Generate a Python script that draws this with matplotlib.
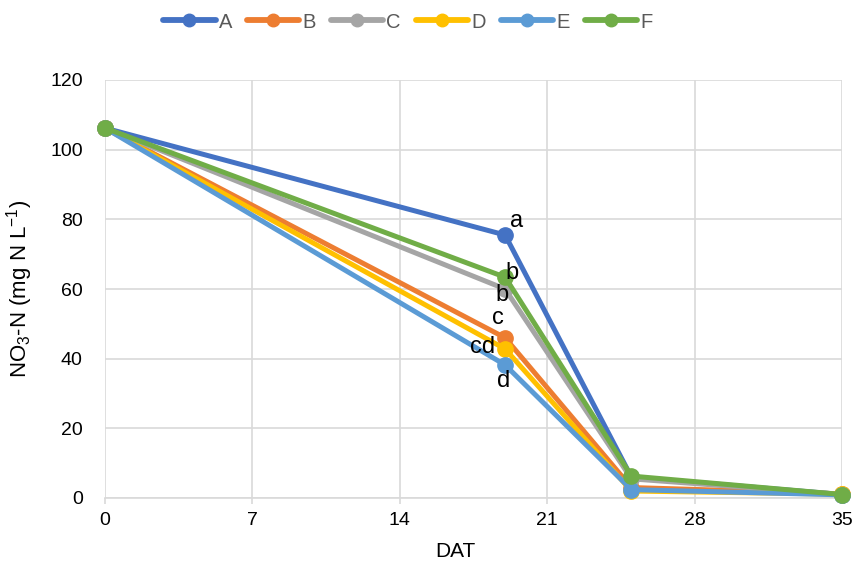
import matplotlib
matplotlib.use("Agg")
import matplotlib.pyplot as plt

plt.rcParams['font.family'] = ['Liberation Sans', 'DejaVu Sans']
plt.rcParams['mathtext.default'] = 'regular'

days = [0, 19, 25, 35]
series_names = ["A", "B", "C", "D", "E", "F"]
A = [106.2, 75.5, 6.0, 1.0]
B = [106.2, 46.0, 3.0, 1.2]
C = [106.2, 60.0, 5.5, 1.0]
D = [106.2, 42.8, 2.0, 1.1]
E = [106.2, 38.2, 2.4, 0.9]
F = [106.2, 63.4, 6.3, 1.0]
values = [A, B, C, D, E, F]
colors = ["#4472C4", "#ED7D31", "#A5A5A5", "#FFC000", "#5B9BD5", "#70AD47"]
letters = [("a", 19, 75.5), ("b", 19, 63.4), ("b", 19, 60.0), ("c", 19, 46.0), ("cd", 19, 42.8), ("d", 19, 38.2)]
letter_offsets = [(8.6, 10), (5, 2.9), (-2, -4.3), (-5, 14.4), (-16, 1.4), (-1.4, -11.5)]
xticks = [0, 7, 14, 21, 28, 35]
yticks = [0, 20, 40, 60, 80, 100, 120]

fig = plt.figure(figsize=(8.55, 5.61), dpi=100)
ax = fig.add_axes([105/855, 1 - 498/561, (842-105)/855, (498-80)/561])

for name, vals, c in zip(series_names, values, colors):
    ax.plot(days, vals, color=c, lw=3.6, marker='o', markersize=11, label=name,
            solid_capstyle='round', zorder=3, clip_on=False)

for (txt, x, y), (dx, dy) in zip(letters, letter_offsets):
    ax.annotate(txt, (x, y), xytext=(dx, dy), textcoords='offset points',
                fontsize=17, ha='center', va='center', zorder=5)

ax.set_xlim(0, 35)
ax.set_ylim(0, 120)
ax.set_xticks(xticks)
ax.set_yticks(yticks)
ax.grid(True, color='#D9D9D9', lw=1.2)
ax.set_axisbelow(True)
for s in ['top', 'right', 'left']:
    ax.spines[s].set_visible(False)
ax.spines['bottom'].set_color('#D9D9D9')
ax.spines['bottom'].set_linewidth(1.2)
ax.tick_params(axis='y', length=0, labelsize=14, colors='black', pad=16)
ax.tick_params(axis='x', length=4, width=1.2, color='#D9D9D9', labelsize=14,
               labelcolor='black', pad=6)
ax.set_xlabel("DAT", fontsize=15)
ax.xaxis.set_label_coords(0.475, -0.105)
ax.set_ylabel("NO$_3$-N (mg N L$^{-1}$)", fontsize=16)
ax.yaxis.set_label_coords(-0.095, 0.5)

leg = fig.legend(loc='center', bbox_to_anchor=(0.477, 1 - 22/561), ncol=6, frameon=False,
                 fontsize=14.5, handlelength=2.6, columnspacing=0.75, handletextpad=0.15)
for t in leg.get_texts():
    t.set_color('#595959')
for h in leg.legend_handles:
    h.set_linewidth(4.2)
    h.set_markersize(9)

fig.savefig("out.png", dpi=100)
